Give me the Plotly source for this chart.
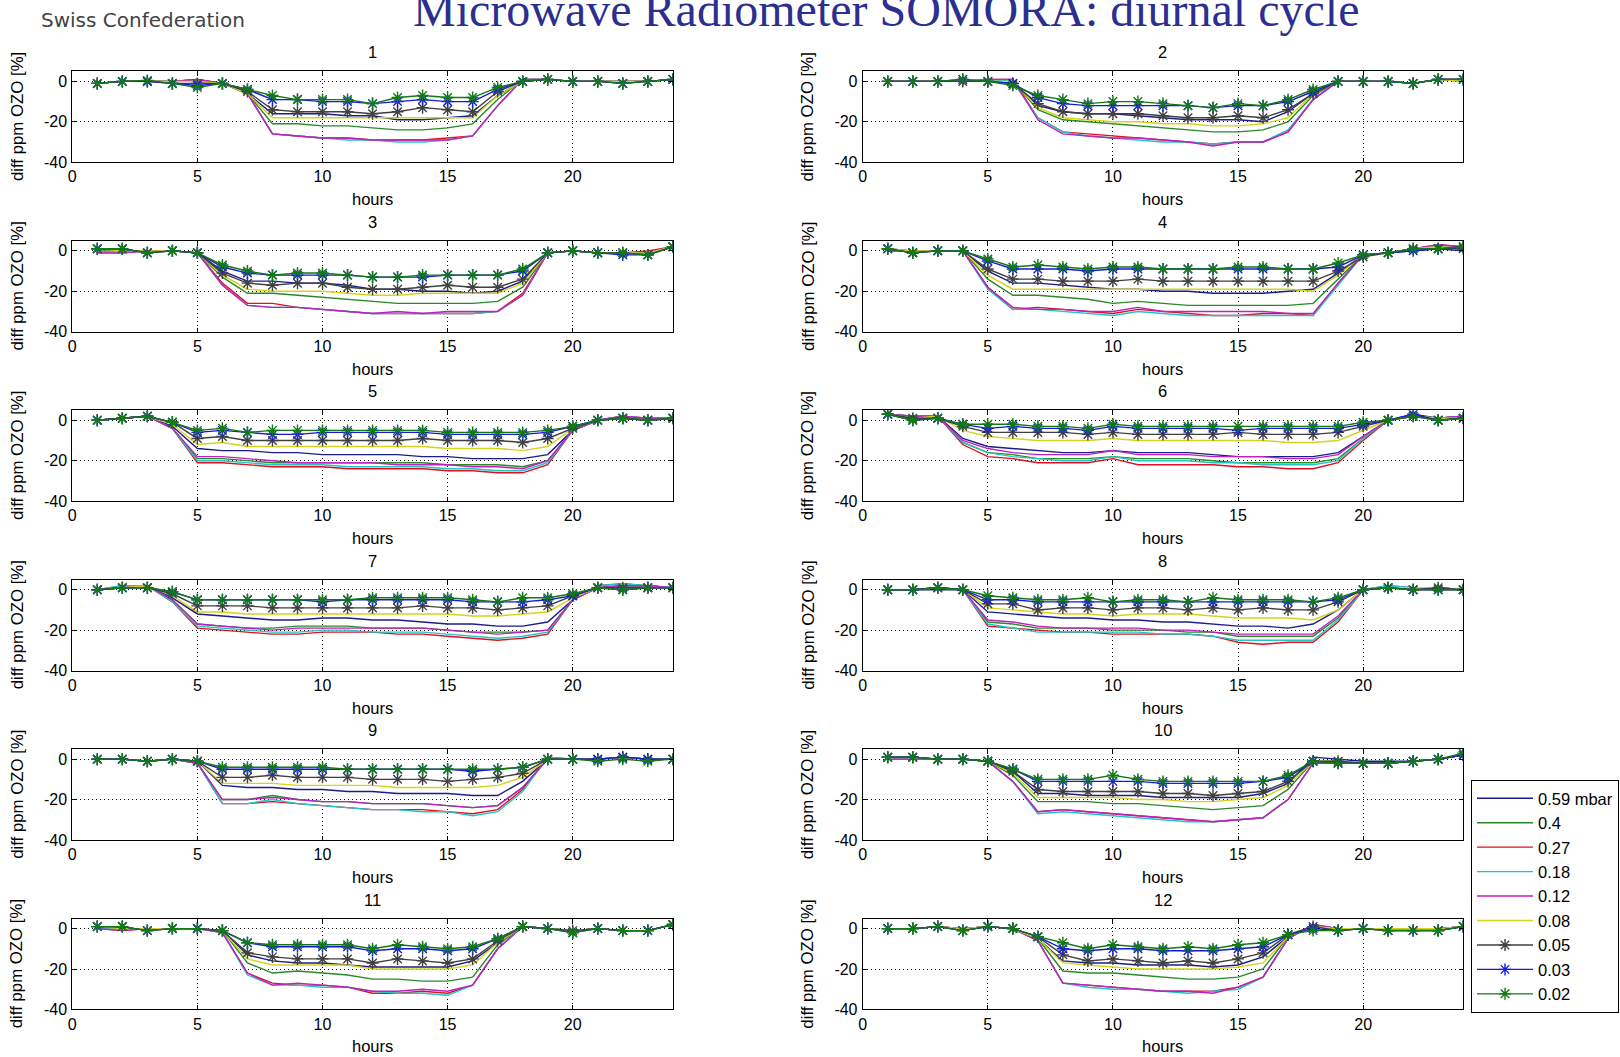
import plotly.graph_objects as go

# ---------------- data ----------------
hours = list(range(1, 25))
levels = ["0.59 mbar", "0.4", "0.27", "0.18", "0.12", "0.08", "0.05", "0.03", "0.02"]
panel_titles = ["1", "2", "3", "4", "5", "6", "7", "8", "9", "10", "11", "12"]
x_ticks = [0, 5, 10, 15, 20]
y_ticks = [-40, -20, 0]
y_ticklabels = ["-40", "-20", "0"]

m1_059 = [-1, 0, 0, 0, 0, -1, -6, -16, -16, -16, -17, -17, -19, -19, -18, -17, -7, 0, 1, 0, 0, 0, 0, 1]
m1_040 = [-1, 0, 0, 0, 1, -1, -6, -21, -21, -22, -22, -23, -24, -24, -23, -21, -9, 1, 1, 0, 0, 0, 0, 1]
m1_027 = [-1, 0, 0, 0, 1, -1, -6, -26, -27, -28, -28, -29, -29, -29, -28, -27, -12, 1, 1, 0, 0, 0, 0, 1]
m1_018 = [-1, 0, 0, 0, 0, -1, -6, -26, -27, -28, -29, -29, -30, -30, -29, -27, -12, 1, 1, 0, 0, 0, 0, 1]
m1_012 = [-1, 0, 0, 0, 1, -1, -6, -26, -27, -28, -28, -29, -29, -29, -29, -27, -12, 1, 1, 0, 0, 0, 0, 1]
m1_008 = [-1, 0, 0, 0, 0, -1, -6, -18, -18, -18, -18, -18, -18, -18, -18, -18, -7, 0, 1, 0, 0, 0, 0, 1]
m1_005 = [-1, 0, 0, -1, -1, -1, -5, -14, -15, -15, -15, -16, -15, -13, -14, -15, -5, 0, 1, 0, 0, -1, 0, 1]
m1_003 = [-1, 0, 0, -1, -2, -1, -4, -9, -9, -10, -10, -11, -10, -9, -10, -10, -4, 0, 1, 0, 0, -1, 0, 1]
m1_002 = [-1, 0, 0.5, -1, -3, -1, -4, -7, -9, -9, -9, -11, -8, -7, -8, -8, -3, 0, 1, 0, 0, -1, 0, 1]

m2_059 = [0, 0, 0, 0, 0, 0, -12, -15, -16, -16, -17, -18, -19, -19, -19, -20, -15, -6, 0, 0, 0, -1, 1, 0]
m2_040 = [0, 0, 0, 0, 0, 0, -14, -19, -20, -21, -22, -23, -24, -25, -25, -24, -20, -7, 0, 0, 0, -1, 1, 0]
m2_027 = [0, 0, 0, 0, 1, 1, -18, -25, -26, -27, -28, -29, -30, -31, -30, -30, -25, -9, 0, 0, 0, -1, 1, 1]
m2_018 = [0, 0, 0, 0, 1, 0, -18, -25, -27, -28, -29, -30, -30, -31, -30, -30, -24, -9, 0, 0, 0, -1, 1, 1]
m2_012 = [0, 0, 0, 0, 1, 1, -19, -26, -27, -28, -28, -29, -30, -32, -30, -30, -25, -9, 0, 0, 0, -1, 1, 1]
m2_008 = [0, 0, 0, 0, 0, 0, -13, -18, -19, -20, -20, -21, -21, -22, -22, -21, -18, -6, 0, 0, 0, -1, 1, 0]
m2_005 = [0, 0, 0, 0, 0, -1, -11, -15, -16, -16, -16, -17, -18, -18, -17, -18, -14, -6, 0, 0, 0, -1, 1, 1]
m2_003 = [0, 0, 0, 1, 0, -1, -8, -11, -12, -12, -12, -12, -12, -13, -12, -12, -10, -5, 0, 0, 0, -1, 1, 1]
m2_002 = [0, 0, 0, 1, 0, -2, -7, -9, -11, -10, -10, -11, -12, -13, -11, -12, -9, -4, 0, 0, 0, -1, 1, 1]

m3_059 = [1, 0, 0, 0, -1, -10, -15, -15, -16, -16, -17, -19, -19, -20, -20, -21, -20, -15, -1, 0, -1, -1, -1, 2]
m3_040 = [0, 0, 0, 0, -1, -13, -21, -21, -22, -23, -24, -25, -26, -26, -26, -26, -25, -18, -1, 0, -1, -1, -1, 2]
m3_027 = [-1, -1, 0, 0, -1, -16, -26, -26, -28, -29, -30, -31, -31, -31, -31, -31, -30, -21, -1, 0, -1, -1, 0, 2]
m3_018 = [0, -1, 0, 0, -1, -17, -27, -28, -28, -29, -30, -31, -31, -31, -31, -31, -30, -22, -1, 0, -1, -1, -1, 2]
m3_012 = [-1, -1, 0, 0, -1, -17, -27, -28, -28, -29, -30, -31, -30, -31, -30, -30, -30, -22, -1, 0, -1, -1, -1, 2]
m3_008 = [1, 0, 0, 0, -1, -12, -19, -20, -20, -20, -21, -22, -22, -21, -21, -21, -21, -16, -1, 0, -1, -1, -1, 2]
m3_005 = [1, 1, -1, 0, -1, -11, -16, -17, -16, -16, -18, -19, -19, -18, -17, -18, -18, -14, -1, 0, -1, -1, -2, 2]
m3_003 = [1, 1, -1, 0, -1, -8, -11, -12, -12, -12, -12, -13, -13, -13, -12, -12, -12, -10, -1, 0, -1, -2, -2, 2]
m3_002 = [1, 1, -1, 0, -1, -7, -10, -12, -11, -11, -12, -13, -13, -12, -12, -12, -12, -9, -1, 0, -1, -1, -2, 2]

m4_059 = [1, 0, 0, 0, -10, -16, -16, -17, -18, -19, -19, -20, -20, -21, -21, -21, -20, -19, -11, -2, -1, 0, 1, 0]
m4_040 = [0, 0, 0, 0, -14, -22, -22, -23, -24, -26, -25, -26, -27, -27, -27, -27, -27, -26, -14, -2, -1, 1, 2, 1]
m4_027 = [0, 0, 0, 0, -18, -29, -28, -29, -30, -31, -29, -30, -31, -32, -32, -31, -31, -32, -16, -2, -1, 1, 3, 2]
m4_018 = [0, 0, 0, 0, -19, -29, -29, -30, -31, -32, -30, -31, -32, -32, -32, -32, -32, -32, -17, -2, -1, 1, 2, 1]
m4_012 = [0, 0, 0, 0, -18, -28, -29, -29, -30, -30, -28, -30, -30, -30, -30, -30, -31, -31, -16, -2, -1, 1, 3, 2]
m4_008 = [1, 0, 0, 0, -12, -19, -19, -19, -19, -19, -19, -19, -19, -19, -19, -19, -19, -20, -12, -2, -1, 1, 2, 1]
m4_005 = [1, -1, 0, 0, -9, -14, -14, -15, -15, -15, -14, -15, -15, -15, -15, -15, -15, -15, -10, -3, -1, 1, 1, 1]
m4_003 = [1, -1, 0, 0, -5, -9, -9, -9, -10, -9, -9, -9, -9, -9, -9, -9, -9, -9, -8, -2, -1, 0, 1, 2]
m4_002 = [1, -1, 0, 0, -4, -8, -7, -8, -9, -8, -8, -9, -9, -9, -8, -8, -9, -9, -6, -2, -1, 1, 1, 2]

m5_059 = [0, 1, 2, -3, -14, -15, -15, -16, -16, -17, -17, -17, -17, -18, -18, -19, -19, -19, -17, -5, 0, 1, 0, 1]
m5_040 = [0, 1, 2, -4, -19, -19, -20, -21, -21, -21, -21, -21, -21, -21, -22, -22, -22, -23, -20, -5, 0, 2, 0, 1]
m5_027 = [0, 1, 2, -4, -21, -21, -22, -23, -23, -23, -24, -24, -24, -24, -25, -25, -26, -26, -22, -5, 0, 2, 1, 1]
m5_018 = [0, 1, 2, -4, -20, -20, -21, -22, -22, -22, -23, -23, -23, -23, -24, -24, -25, -25, -21, -5, 0, 2, 1, 1]
m5_012 = [0, 1, 2, -4, -18, -18, -19, -20, -21, -21, -21, -21, -22, -22, -22, -23, -23, -24, -20, -5, 0, 2, 1, 1]
m5_008 = [0, 1, 2, -2, -12, -11, -13, -13, -13, -13, -13, -13, -13, -13, -14, -14, -14, -15, -13, -4, 0, 1, 0, 1]
m5_005 = [0, 1, 2, -1, -9, -8, -10, -10, -10, -10, -10, -10, -10, -9, -10, -10, -10, -11, -9, -4, 0, 1, 0, 1]
m5_003 = [0, 1, 2, -1, -6, -5, -6, -7, -7, -6, -6, -6, -6, -6, -7, -7, -7, -7, -6, -3, 0, 1, 0, 1]
m5_002 = [0, 1, 2, -1, -5, -4, -6, -5, -5, -5, -5, -5, -5, -5, -6, -6, -6, -6, -5, -3, 0, 1, 0, 1]

m6_059 = [3, 2, 2, -9, -13, -14, -15, -16, -16, -15, -16, -16, -16, -17, -18, -18, -18, -18, -16, -8, 0, 3, 1, 2]
m6_040 = [3, 1, 2, -11, -16, -17, -19, -19, -19, -18, -19, -19, -19, -20, -21, -21, -21, -21, -19, -9, 0, 2, 1, 2]
m6_027 = [3, 2, 2, -12, -18, -19, -21, -21, -21, -19, -22, -22, -22, -22, -23, -23, -24, -24, -21, -10, 0, 2, 1, 2]
m6_018 = [3, 2, 2, -11, -16, -18, -19, -20, -20, -18, -20, -20, -20, -21, -21, -22, -22, -22, -20, -9, 0, 2, 1, 2]
m6_012 = [3, 2, 2, -10, -14, -16, -17, -17, -17, -15, -17, -17, -17, -18, -18, -18, -19, -19, -17, -8, 0, 2, 1, 2]
m6_008 = [3, 1, 2, -5, -8, -9, -10, -10, -10, -9, -10, -10, -10, -10, -10, -10, -11, -11, -10, -5, 0, 2, 1, 1]
m6_005 = [3, 1, 1, -3, -6, -6, -6, -6, -7, -6, -7, -7, -7, -7, -6, -7, -7, -7, -6, -3, 0, 2, 0, 1]
m6_003 = [3, 0, 1, -2, -4, -3, -4, -4, -5, -3, -4, -4, -4, -4, -5, -4, -4, -4, -4, -2, 0, 3, 0, 1]
m6_002 = [3, 0, 1, -2, -2, -2, -3, -3, -4, -2, -3, -3, -3, -3, -3, -3, -3, -3, -3, -1, 0, 2, 0, 1]

m7_059 = [0, 1, 2, -4, -12, -13, -14, -15, -15, -14, -14, -15, -15, -16, -17, -17, -18, -18, -16, -5, 1, 2, 2, 1]
m7_040 = [0, 1, 2, -5, -17, -18, -19, -19, -18, -18, -18, -19, -19, -19, -20, -21, -21, -21, -20, -5, 1, 2, 2, 1]
m7_027 = [0, 2, 2, -6, -19, -20, -21, -22, -22, -21, -21, -21, -22, -22, -23, -24, -25, -24, -22, -5, 2, 3, 2, 1]
m7_018 = [0, 2, 2, -6, -18, -19, -20, -21, -21, -20, -20, -21, -21, -21, -22, -23, -24, -23, -21, -5, 2, 3, 2, 1]
m7_012 = [0, 1, 2, -5, -17, -18, -19, -20, -19, -19, -19, -19, -19, -19, -20, -21, -22, -21, -20, -5, 1, 2, 2, 1]
m7_008 = [0, 1, 2, -3, -11, -11, -12, -12, -12, -12, -12, -12, -12, -12, -12, -13, -13, -12, -11, -4, 1, 1, 1, 1]
m7_005 = [0, 1, 1, -2, -8, -8, -8, -9, -9, -9, -9, -9, -9, -8, -9, -9, -10, -9, -8, -3, 1, 1, 1, 1]
m7_003 = [0, 1, 1, -1, -5, -5, -5, -5, -5, -6, -5, -5, -5, -5, -5, -6, -6, -6, -5, -3, 1, 0, 1, 1]
m7_002 = [0, 1, 1, -1, -5, -5, -5, -5, -5, -5, -5, -4, -4, -4, -4, -5, -6, -4, -4, -2, 1, 0, 1, 1]

m8_059 = [0, 0, 0, 0, -11, -12, -13, -14, -14, -15, -15, -16, -16, -17, -18, -18, -19, -17, -10, 0, 1, 1, 1, 0]
m8_040 = [0, 0, 1, 0, -16, -17, -19, -19, -19, -20, -20, -20, -21, -21, -23, -23, -23, -23, -14, 0, 1, 1, 1, 0]
m8_027 = [0, 0, 1, 0, -18, -19, -20, -21, -21, -22, -22, -22, -22, -23, -26, -27, -26, -26, -16, 0, 2, 1, 1, 0]
m8_018 = [0, 0, 1, 0, -17, -19, -21, -21, -21, -21, -21, -22, -22, -23, -25, -25, -25, -25, -15, 0, 2, 1, 1, 0]
m8_012 = [0, 0, 1, 0, -15, -16, -18, -19, -19, -19, -19, -20, -20, -21, -22, -22, -22, -22, -13, 0, 1, 1, 1, 0]
m8_008 = [0, 0, 1, 0, -9, -10, -11, -12, -12, -13, -12, -12, -12, -13, -14, -14, -14, -15, -10, 0, 1, 1, 1, 0]
m8_005 = [0, 0, 1, 0, -7, -7, -10, -9, -9, -10, -9, -9, -10, -9, -10, -9, -10, -10, -6, 0, 1, 0, 1, 0]
m8_003 = [0, 0, 1, 0, -5, -5, -6, -6, -6, -6, -6, -6, -6, -6, -6, -6, -6, -6, -5, 0, 1, 0, 0, 0]
m8_002 = [0, 0, 1, 0, -3, -4, -5, -5, -4, -6, -5, -5, -6, -4, -5, -5, -5, -6, -4, 0, 1, 0, 0, 0]

m9_059 = [0, 0, -1, 0, -1, -13, -14, -14, -15, -15, -16, -16, -17, -17, -17, -18, -18, -11, 0, 0, 0, 1, 0, 0]
m9_040 = [0, 0, -1, 0, -2, -20, -20, -18, -20, -21, -21, -22, -22, -22, -23, -24, -23, -14, 0, 0, 0, 1, 0, 0]
m9_027 = [0, 0, -1, 0, -2, -22, -22, -21, -22, -23, -24, -25, -25, -25, -26, -27, -25, -15, 1, 0, 0, 1, 0, 0]
m9_018 = [0, 0, -1, 0, -2, -22, -22, -20, -22, -23, -24, -25, -25, -26, -26, -28, -26, -16, 1, 0, 0, 1, 0, 0]
m9_012 = [0, 0, -1, 0, -2, -20, -20, -19, -20, -21, -21, -22, -22, -22, -23, -24, -23, -14, 0, 0, 0, 1, 0, 0]
m9_008 = [0, 0, -1, 0, -1, -12, -12, -12, -13, -13, -13, -13, -14, -14, -14, -14, -13, -9, 0, 0, 0, 1, 0, 0]
m9_005 = [0, 0, -1, 0, -1, -9, -9, -8, -9, -9, -9, -10, -10, -10, -11, -10, -9, -7, 0, 0, 0, 1, 0, 0]
m9_003 = [0, 0, -1, 0, -1, -5, -5, -5, -5, -5, -5, -5, -5, -5, -5, -6, -5, -4, 0, 0, 0, 1, 0, 0]
m9_002 = [0, 0, -1, 0, -1, -4, -4, -4, -4, -4, -5, -5, -5, -5, -5, -5, -5, -4, 0, 0, -1, 0, -1, 0]

m10_059 = [1, 1, 0, 0, -1, -6, -17, -17, -18, -18, -18, -19, -19, -19, -19, -17, -12, 1, 0, -1, -1, -1, 0, 2]
m10_040 = [1, 1, 0, 0, -1, -8, -21, -21, -21, -22, -22, -23, -24, -25, -24, -23, -15, -1, -1, -2, -2, -1, 0, 2]
m10_027 = [0, 0, 0, 0, -1, -11, -26, -25, -26, -27, -28, -29, -30, -31, -30, -29, -20, -2, -2, -2, -2, -1, 0, 2]
m10_018 = [0, 0, 0, 0, -1, -11, -27, -26, -27, -28, -29, -30, -31, -31, -30, -29, -20, -2, -2, -2, -2, -1, 0, 2]
m10_012 = [0, 0, 0, 0, -1, -11, -26, -25, -26, -27, -28, -29, -30, -31, -30, -29, -20, -2, -2, -2, -2, -1, 0, 2]
m10_008 = [1, 1, 0, 0, -1, -7, -19, -19, -19, -19, -20, -20, -21, -21, -20, -19, -13, -1, -1, -2, -2, -1, 0, 2]
m10_005 = [1, 1, 0, 0, -1, -6, -15, -16, -16, -16, -16, -17, -17, -18, -17, -16, -11, -1, -1, -2, -2, -1, 0, 2]
m10_003 = [1, 1, 0, 0, -1, -5, -11, -11, -11, -11, -11, -12, -12, -12, -12, -11, -9, -1, -2, -2, -2, -1, 0, 2]
m10_002 = [1, 1, 0, 0, -1, -5, -10, -10, -10, -8, -10, -11, -11, -11, -11, -11, -8, -1, -2, -2, -2, -1, 0, 3]

m11_059 = [1, 0, 0, 0, 0, -1, -13, -16, -17, -17, -18, -19, -19, -19, -19, -16, -7, 1, 0, -1, 0, -1, -1, 2]
m11_040 = [1, 0, 0, 0, 0, -1, -17, -22, -21, -22, -23, -25, -25, -26, -26, -24, -8, 1, 0, -1, 0, -1, -1, 2]
m11_027 = [0, -1, 0, 0, 0, -2, -22, -27, -28, -28, -29, -32, -32, -31, -32, -28, -10, 1, 0, -1, 0, -1, -1, 2]
m11_018 = [0, 0, 0, 0, 0, -2, -23, -28, -28, -29, -29, -31, -32, -32, -33, -28, -10, 1, 0, -1, 0, -1, -1, 2]
m11_012 = [0, -1, 0, 0, 0, -2, -22, -28, -27, -28, -29, -31, -31, -30, -31, -28, -10, 1, 0, -1, 0, -1, -1, 2]
m11_008 = [1, 0, 0, 0, 0, -1, -15, -18, -18, -18, -18, -20, -20, -20, -20, -18, -7, 1, 0, -1, 0, -1, -1, 2]
m11_005 = [1, 1, -1, 0, 0, -1, -12, -14, -15, -15, -15, -17, -15, -16, -17, -15, -6, 1, 0, -1, 0, -1, -1, 2]
m11_003 = [1, 1, -1, 0, 0, -1, -7, -9, -9, -9, -9, -11, -10, -10, -11, -10, -5, 1, 0, -2, 0, -1, -1, 2]
m11_002 = [1, 1, -1, 0, 0, -1, -7, -8, -8, -8, -8, -10, -8, -9, -10, -9, -5, 1, 0, -2, 0, -1, -1, 2]

m12_059 = [0, 0, 1, 0, 1, 0, -5, -16, -17, -17, -18, -18, -18, -19, -18, -14, -4, 1, 0, 0, 0, 0, 0, 1]
m12_040 = [0, 0, 1, 0, 1, 0, -5, -21, -22, -22, -23, -24, -25, -25, -24, -20, -4, 1, 0, 0, 0, 0, 0, 1]
m12_027 = [0, 0, 1, 0, 1, 0, -6, -27, -28, -29, -30, -31, -31, -31, -29, -24, -5, 2, 0, 0, 0, 0, 0, 1]
m12_018 = [0, 0, 1, 0, 1, 0, -6, -27, -29, -30, -30, -31, -32, -31, -30, -24, -5, 2, 0, 0, 0, 0, 0, 1]
m12_012 = [0, 0, 1, 0, 1, 0, -6, -27, -28, -29, -30, -31, -31, -32, -29, -24, -5, 2, 0, 0, 0, 0, 0, 1]
m12_008 = [0, 0, 1, 0, 1, 0, -5, -17, -18, -19, -20, -20, -20, -20, -19, -17, -4, 1, 0, 0, 0, 0, 0, 1]
m12_005 = [0, 0, 1, -1, 1, 0, -4, -13, -16, -15, -16, -17, -16, -17, -15, -12, -3, 1, -1, 0, -1, -1, -1, 1]
m12_003 = [0, 0, 1, -1, 1, 0, -4, -10, -11, -10, -10, -11, -11, -11, -10, -9, -3, 0, -1, 0, -1, -1, -1, 1]
m12_002 = [0, 0, 1, -1, 1, 0, -4, -7, -10, -8, -9, -10, -9, -10, -8, -7, -3, -1, -1, 0, -1, -1, -1, 1]

months = [
    [m1_059, m1_040, m1_027, m1_018, m1_012, m1_008, m1_005, m1_003, m1_002],
    [m2_059, m2_040, m2_027, m2_018, m2_012, m2_008, m2_005, m2_003, m2_002],
    [m3_059, m3_040, m3_027, m3_018, m3_012, m3_008, m3_005, m3_003, m3_002],
    [m4_059, m4_040, m4_027, m4_018, m4_012, m4_008, m4_005, m4_003, m4_002],
    [m5_059, m5_040, m5_027, m5_018, m5_012, m5_008, m5_005, m5_003, m5_002],
    [m6_059, m6_040, m6_027, m6_018, m6_012, m6_008, m6_005, m6_003, m6_002],
    [m7_059, m7_040, m7_027, m7_018, m7_012, m7_008, m7_005, m7_003, m7_002],
    [m8_059, m8_040, m8_027, m8_018, m8_012, m8_008, m8_005, m8_003, m8_002],
    [m9_059, m9_040, m9_027, m9_018, m9_012, m9_008, m9_005, m9_003, m9_002],
    [m10_059, m10_040, m10_027, m10_018, m10_012, m10_008, m10_005, m10_003, m10_002],
    [m11_059, m11_040, m11_027, m11_018, m11_012, m11_008, m11_005, m11_003, m11_002],
    [m12_059, m12_040, m12_027, m12_018, m12_012, m12_008, m12_005, m12_003, m12_002],
]

# ---------------- styles ----------------
colors = ["#1c1c8c", "#2a8a2a", "#e01020", "#22c4c4", "#c020c0", "#d4d41c",
          "#404040", "#1818e0", "#127a12"]
has_marker = [False, False, False, False, False, False, True, True, True]

W, H = 1620, 1057
FONT = "Liberation Sans, Arial, Helvetica, sans-serif"


def fx(p):
    return p / W


def fy(p):
    return 1 - p / H


col_left = [72.3, 862.7]
ax_w = 600.5
row_top0 = 71.3
row_pitch = 169.44
ax_h = 90.9

fig = go.Figure()
annotations = []
layout_axes = {}

for i, series in enumerate(months):
    k = i + 1
    r, c = divmod(i, 2)
    left = col_left[c]
    top = row_top0 + r * row_pitch
    bottom = top + ax_h
    xname = "x" if k == 1 else f"x{k}"
    yname = "y" if k == 1 else f"y{k}"
    for s, vals in enumerate(series):
        tr = dict(
            x=hours, y=vals, xaxis=xname, yaxis=yname,
            name=levels[s], legendrank=s + 1,
            showlegend=(k == 1),
            line=dict(color=colors[s], width=1.4),
            hoverinfo="skip",
        )
        if has_marker[s]:
            tr["mode"] = "lines+markers"
            tr["marker"] = dict(symbol="asterisk-open", size=10,
                                line=dict(color=colors[s], width=1.4))
        else:
            tr["mode"] = "lines"
        fig.add_trace(go.Scatter(**tr))

    common = dict(
        showline=True, linecolor="black", linewidth=1, mirror="ticks",
        ticks="inside", ticklen=4, tickcolor="black", tickwidth=1,
        showgrid=True, gridcolor="black", gridwidth=1, griddash="1px,3px",
        zeroline=False, tickfont=dict(family=FONT, size=16, color="black"),
        fixedrange=True,
    )
    layout_axes["xaxis" if k == 1 else f"xaxis{k}"] = dict(
        common, domain=[fx(left), fx(left + ax_w)], anchor=yname,
        range=[0, 24], tickmode="array", tickvals=x_ticks,
        ticktext=[str(v) for v in x_ticks], ticklabelstandoff=0,
    )
    layout_axes["yaxis" if k == 1 else f"yaxis{k}"] = dict(
        common, domain=[fy(bottom), fy(top)], anchor=xname,
        range=[-40, 5], tickmode="array", tickvals=y_ticks,
        ticktext=y_ticklabels, ticklabelstandoff=1,
    )

    cx = left + ax_w / 2
    annotations.append(dict(text=panel_titles[i], x=fx(cx), y=fy(top - 19),
                            xref="paper", yref="paper", showarrow=False,
                            xanchor="center", yanchor="middle",
                            font=dict(family=FONT, size=16.5, color="black")))
    annotations.append(dict(text="hours", x=fx(cx), y=fy(bottom + 37),
                            xref="paper", yref="paper", showarrow=False,
                            xanchor="center", yanchor="middle",
                            font=dict(family=FONT, size=16.5, color="black")))
    annotations.append(dict(text="diff ppm OZO [%]", x=fx(left - 55),
                            y=fy(top + ax_h / 2), textangle=-90,
                            xref="paper", yref="paper", showarrow=False,
                            xanchor="center", yanchor="middle",
                            font=dict(family=FONT, size=16.8, color="black")))

annotations.append(dict(text="Microwave Radiometer SOMORA: diurnal cycle",
                        x=fx(886), y=fy(38), xref="paper", yref="paper",
                        showarrow=False, xanchor="center", yanchor="bottom",
                        font=dict(family="Liberation Serif, Times New Roman, serif",
                                  size=48, color="#2b2f8f")))
annotations.append(dict(text="Swiss Confederation",
                        x=fx(39), y=fy(20), xref="paper", yref="paper",
                        showarrow=False, xanchor="left", yanchor="middle",
                        font=dict(family="DejaVu Sans, sans-serif",
                                  size=20, color="#444444")))

fig.update_layout(
    width=W, height=H,
    margin=dict(l=0, r=0, t=0, b=0, autoexpand=False),
    paper_bgcolor="white", plot_bgcolor="white",
    showlegend=True,
    legend=dict(x=fx(1471), y=fy(780), xanchor="left", yanchor="top",
                bgcolor="white", bordercolor="black", borderwidth=1,
                font=dict(family=FONT, size=16.5, color="black"),
                itemwidth=56,
                tracegroupgap=0, itemclick=False, itemdoubleclick=False),
    annotations=annotations,
    **layout_axes,
)

fig.write_html(
    "out.html",
    config={"displayModeBar": False, "staticPlot": True},
    post_script="document.body.style.margin='0px';document.body.style.padding='0px';",
)
